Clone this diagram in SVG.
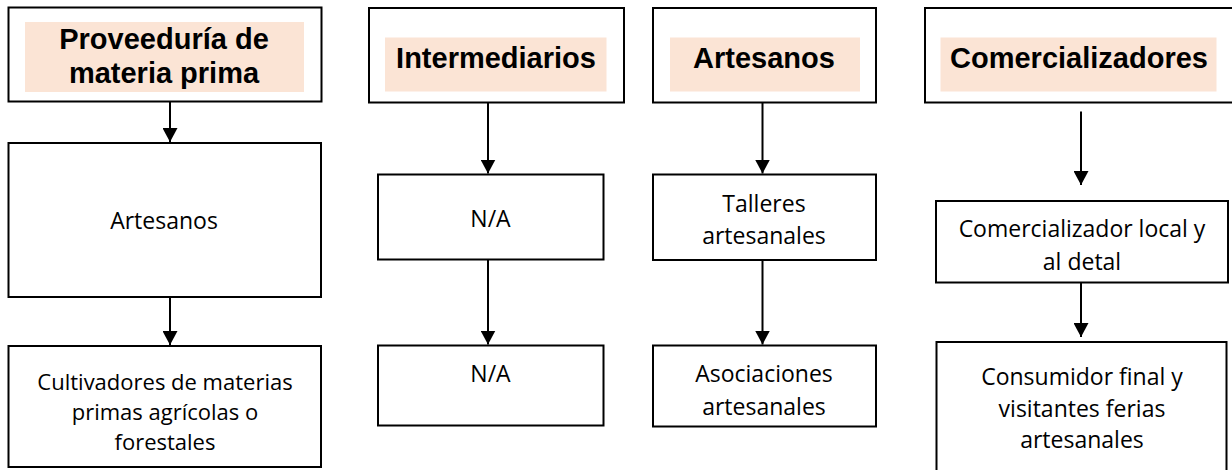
<svg xmlns="http://www.w3.org/2000/svg" width="1232" height="470" viewBox="0 0 1232 470">
<style>
.box{fill:#fff;stroke:#000;stroke-width:2}
.hl{fill:#FBE4D5}
.h{font-family:"Liberation Sans",Arial,sans-serif;font-weight:bold;font-size:29px;fill:#000;text-anchor:middle}
.t{font-family:"Open Sans","Noto Sans",sans-serif;font-size:23px;fill:#000;text-anchor:middle}
.t2{font-size:22px}
.c{stroke:#000;stroke-width:2;fill:none;marker-end:url(#ah)}
</style>
<defs>
<marker id="ah" markerUnits="userSpaceOnUse" markerWidth="15" markerHeight="15" refX="14" refY="7.5" orient="auto">
<path d="M0,0 L14,7.5 L0,15 z" fill="#000"/>
</marker>
</defs>
<rect width="1232" height="470" fill="#fff"/>
<g id="n-proveeduria">
<rect class="box" x="8.5" y="7.5" width="313" height="94"/>
<rect class="hl" x="25" y="22" width="279" height="70"/>
<text class="h" x="164" y="49">Proveeduría de<tspan x="164" y="83">materia prima</tspan></text>
</g>
<g id="n-artesanos1">
<rect class="box" x="8.5" y="143" width="312.5" height="154"/>
<text class="t" x="164" y="229">Artesanos</text>
</g>
<g id="n-cultivadores">
<rect class="box" x="8.5" y="346" width="312.5" height="121"/>
<text class="t t2" x="165" y="389.7">Cultivadores de materias<tspan x="165" y="420">primas agrícolas o</tspan><tspan x="165" y="450.3">forestales</tspan></text>
</g>
<g id="n-intermediarios">
<rect class="box" x="369" y="8" width="255" height="94.5"/>
<rect class="hl" x="385" y="37.5" width="221.5" height="54"/>
<text class="h" x="496" y="67.5">Intermediarios</text>
</g>
<g id="n-na1">
<rect class="box" x="378" y="174.5" width="225.5" height="85"/>
<text class="t" x="490.5" y="226.5">N/A</text>
</g>
<g id="n-na2">
<rect class="box" x="378" y="345.5" width="225.5" height="80"/>
<text class="t" x="490.5" y="382">N/A</text>
</g>
<g id="n-artesanos">
<rect class="box" x="653" y="8" width="223" height="94.5"/>
<rect class="hl" x="670" y="37.5" width="190" height="54"/>
<text class="h" x="764" y="67.5">Artesanos</text>
</g>
<g id="n-talleres">
<rect class="box" x="653" y="174.5" width="223" height="85.5"/>
<text class="t" x="764" y="211.5">Talleres<tspan x="764" y="244">artesanales</tspan></text>
</g>
<g id="n-asociaciones">
<rect class="box" x="653" y="345.5" width="223" height="81"/>
<text class="t" x="764" y="381.5">Asociaciones<tspan x="764" y="414.5">artesanales</tspan></text>
</g>
<g id="n-comercializadores">
<rect class="box" x="925" y="8" width="320" height="94.5"/>
<rect class="hl" x="940.5" y="37.5" width="276" height="54"/>
<text class="h" x="1079" y="67.5">Comercializadores</text>
</g>
<g id="n-comerc-local">
<rect class="box" x="936" y="201" width="292" height="81.5"/>
<text class="t" x="1082" y="237">Comercializador local y<tspan x="1082" y="270">al detal</tspan></text>
</g>
<g id="n-consumidor">
<rect class="box" x="936.5" y="342" width="290" height="140"/>
<text class="t" x="1082" y="385">Consumidor final y<tspan x="1082" y="417">visitantes ferias</tspan><tspan x="1082" y="448">artesanales</tspan></text>
</g>
<g id="connectors">
<line class="c" x1="170" y1="102" x2="170" y2="142"/>
<line class="c" x1="170" y1="297" x2="170" y2="345"/>
<line class="c" x1="488" y1="103" x2="488" y2="173.5"/>
<line class="c" x1="488" y1="260" x2="488" y2="344.5"/>
<line class="c" x1="762.5" y1="103" x2="762.5" y2="173.5"/>
<line class="c" x1="762.5" y1="260.5" x2="762.5" y2="344.5"/>
<line class="c" x1="1081" y1="111.5" x2="1081" y2="185"/>
<line class="c" x1="1081" y1="283" x2="1081" y2="337"/>
</g>
</svg>
